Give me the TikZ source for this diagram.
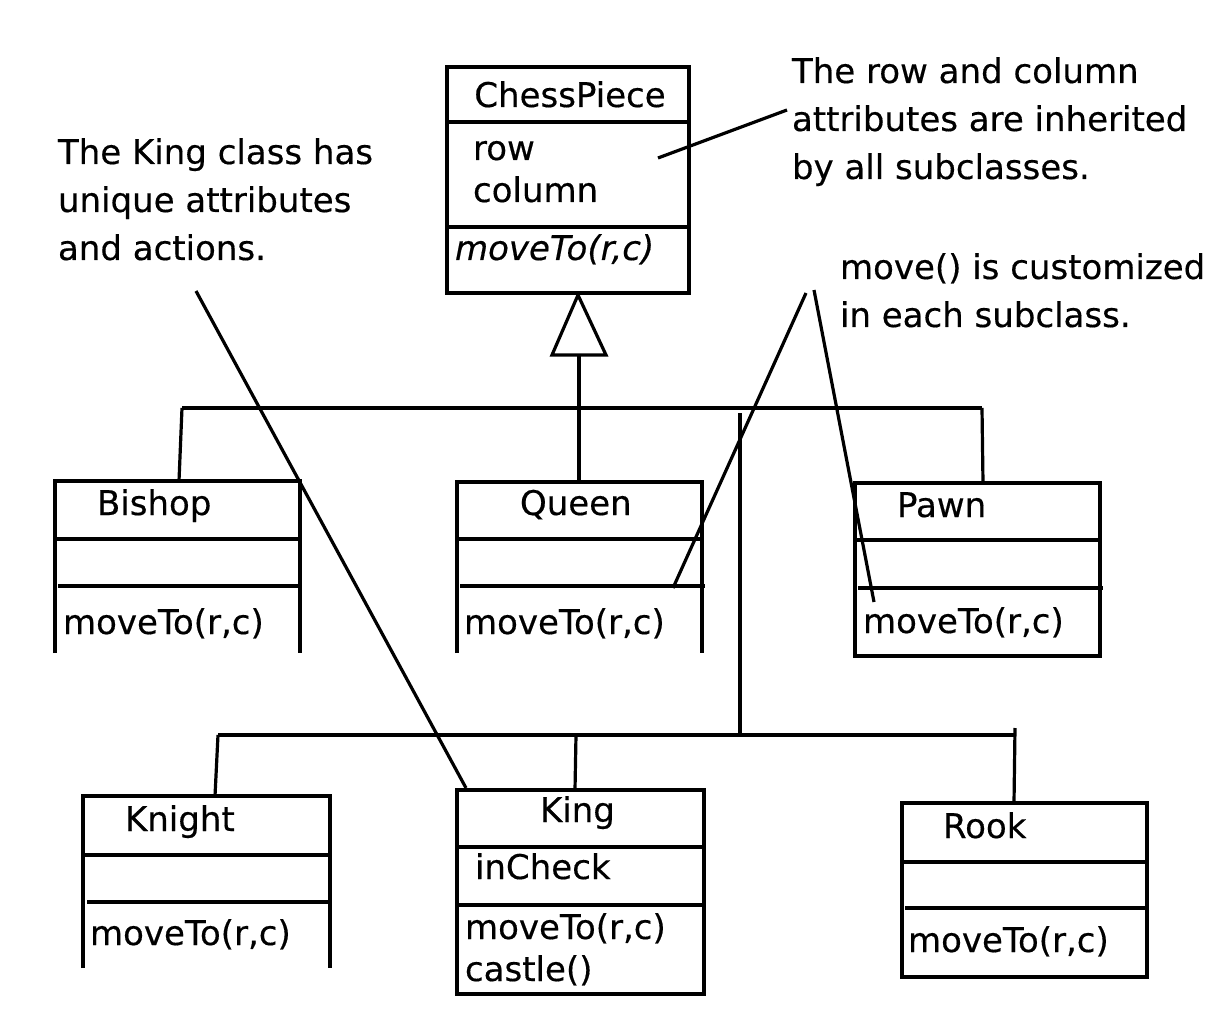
\documentclass[tikz,border=0pt]{standalone}
\usepackage{fontspec}
\setmainfont{DejaVu Sans}[FakeBold=0.4]
\begin{document}
\begin{tikzpicture}[x=1pt,y=-1pt,line width=3.2pt,
  classbox/.style={draw,line width=3.2pt,inner sep=0pt,outer sep=0pt,anchor=north west},
  openbox/.style={inner sep=0pt,outer sep=0pt,anchor=north west},
  lbl/.style={inner sep=0pt,outer sep=0pt,anchor=base west,font=\fontsize{34}{48}\selectfont},
  note/.style={inner sep=0pt,outer sep=0pt,anchor=base west,align=left,font=\fontsize{34}{48}\selectfont},
  wire/.style={line width=3.2pt}]
\useasboundingbox (0,0) rectangle (1224,1016);
% ---- class boxes
\node[classbox,minimum width=242pt,minimum height=226pt] (chess) at (447,67) {};
\node[openbox,minimum width=245pt,minimum height=172pt] (bishop) at (55,481) {};
\node[openbox,minimum width=245pt,minimum height=171pt] (queen) at (457,482) {};
\node[classbox,minimum width=245pt,minimum height=173pt] (pawn) at (855,483) {};
\node[openbox,minimum width=247pt,minimum height=172pt] (knight) at (83,796) {};
\node[classbox,minimum width=247pt,minimum height=204pt] (king) at (457,790) {};
\node[classbox,minimum width=245pt,minimum height=174pt] (rook) at (902,803) {};
% open-bottom boxes (no bottom edge in the picture)
\draw[line join=miter] (bishop.south west) -- (bishop.north west) -- (bishop.north east) -- (bishop.south east);
\draw[line join=miter] (queen.south west) -- (queen.north west) -- (queen.north east) -- (queen.south east);
\draw[line join=miter] (knight.south west) -- (knight.north west) -- (knight.north east) -- (knight.south east);
% ---- compartment dividers
\draw (447,122) -- (689,122) (447,227) -- (689,227);
\draw (55,539) -- (300,539) (58,586) -- (302,586);
\draw (457,539) -- (702,539) (460,586) -- (705,586);
\draw (855,540) -- (1100,540) (858,588) -- (1103,588);
\draw (83,855) -- (330,855) (87,902) -- (330,902);
\draw (457,847) -- (704,847) (457,905) -- (704,905);
\draw (902,862) -- (1147,862) (905,908) -- (1147,908);
% ---- texts in boxes
\node[lbl,anchor=base] (tchess) at (570,107) {ChessPiece};
\node[lbl] (trow) at (473,160) {row};
\node[lbl] (tcol) at (473,202) {column};
\node[lbl,font=\fontsize{34}{48}\selectfont\itshape] (tmove) at (455,260) {moveTo(r,c)};
\node[lbl] (tbishop) at (97,515) {Bishop};
\node[lbl] (mbishop) at (63,634) {moveTo(r,c)};
\node[lbl] (tqueen) at (520,515) {Queen};
\node[lbl] (mqueen) at (464,634) {moveTo(r,c)};
\node[lbl] (tpawn) at (897,517) {Pawn};
\node[lbl] (mpawn) at (863,633) {moveTo(r,c)};
\node[lbl] (tknight) at (125,831) {Knight};
\node[lbl] (mknight) at (90,945) {moveTo(r,c)};
\node[lbl] (tking) at (540,822) {King};
\node[lbl] (aking) at (475,879) {inCheck};
\node[lbl] (mking) at (465,939) {moveTo(r,c)};
\node[lbl] (cking) at (465,981) {castle()};
\node[lbl] (trook) at (943,838) {Rook};
\node[lbl] (mrook) at (908,952) {moveTo(r,c)};
% ---- notes (anchor = baseline of last line)
\node[note] (nking) at (58,260) {The King class has\\unique attributes\\and actions.};
\node[note] (nrow) at (792,179) {The row and column\\attributes are inherited\\by all subclasses.};
\node[note] (nmove) at (840,327) {move() is customized\\in each subclass.};
% ---- generalization tree
\coordinate (apex) at (578,295);
\coordinate (bl) at (552,355);
\coordinate (br) at (606,355);
\coordinate (tribase) at (579,355);
\draw[line join=miter] (apex) -- (bl) -- (br) -- cycle;
\coordinate (busL) at (182,408);
\coordinate (busR) at (982,408);
\coordinate (busV) at (740,413);
\coordinate (lowL) at (218,735);
\coordinate (lowR) at (1015,735);
\coordinate (lowV) at (740,735);
\coordinate (lowK) at (576,735);
\coordinate (lowR2) at (1015,728);
\draw[wire] (busL) -- (busR);
\draw[wire] (busL) -- (bishop.north -| 179,0);
\draw[wire] (tribase) -- (queen.north -| 579,0);
\draw[wire] (busR) -- (pawn.north -| 983,0);
\draw[wire] (busV) -- (lowV);
\draw[wire] (lowL) -- (lowR);
\draw[wire] (lowL) -- (knight.north -| 215,0);
\draw[wire] (lowK) -- (king.north -| 575,0);
\draw[wire] (lowR2) -- (rook.north -| 1014,0);
% ---- annotation lines
\coordinate (kingnote) at (196,291);
\coordinate (kingend) at (466,788);
\coordinate (rownote) at (787,110);
\coordinate (rowend) at (658,158);
\coordinate (movenoteA) at (806,293);
\coordinate (movenoteB) at (814,290);
\coordinate (queenend) at (673,588);
\coordinate (pawnend) at (874,602);
\draw[wire] (kingnote) -- (kingend);
\draw[wire] (rownote) -- (rowend);
\draw[wire] (movenoteA) -- (queenend);
\draw[wire] (movenoteB) -- (pawnend);
\end{tikzpicture}
\end{document}
